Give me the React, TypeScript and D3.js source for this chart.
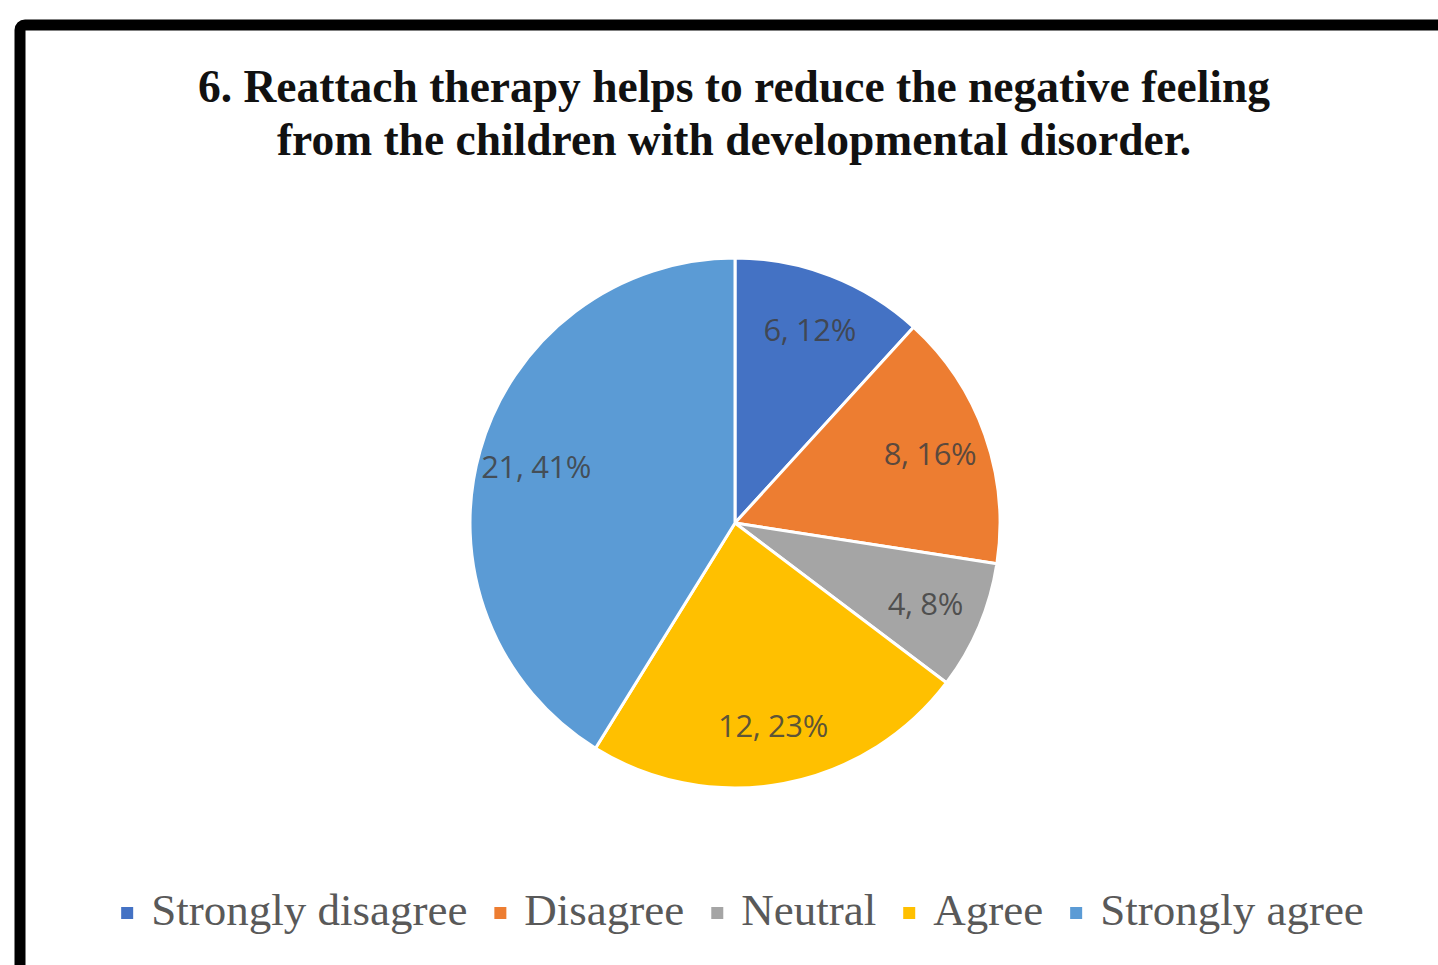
import React, { useEffect, useRef } from "react";
import * as d3 from "d3";

const categories = ["Strongly disagree", "Disagree", "Neutral", "Agree", "Strongly agree"];
const counts = [6, 8, 4, 12, 21];
const percentLabels = ["12%", "16%", "8%", "23%", "41%"];
const colors = ["#4472C4", "#ED7D31", "#A5A5A5", "#FFC000", "#5B9BD5"];
const titleLines = [
  "6. Reattach therapy helps to reduce the negative feeling",
  "from the children with developmental disorder.",
];

const W = 1438;
const H = 965;

export default function App() {
  const ref = useRef<SVGSVGElement | null>(null);

  useEffect(() => {
    const svg = d3.select(ref.current);
    svg.selectAll("*").remove();

    // frame
    svg
      .append("rect")
      .attr("x", 20)
      .attr("y", 25)
      .attr("width", W + 40)
      .attr("height", H + 40)
      .attr("rx", 5)
      .attr("fill", "#fff")
      .attr("stroke", "#000")
      .attr("stroke-width", 11);

    // title
    const title = svg
      .append("text")
      .attr("text-anchor", "middle")
      .attr("font-family", "'Liberation Serif', 'Times New Roman', serif")
      .attr("font-weight", "bold")
      .attr("font-size", 45.5)
      .attr("fill", "#111");
    titleLines.forEach((t, i) => {
      title
        .append("tspan")
        .attr("x", 734)
        .attr("y", 102 + i * 53)
        .text(t);
    });

    // pie
    const cx = 735;
    const cy = 523;
    const r = 265;
    const pie = d3.pie<number>().sort(null).value((d) => d);
    const arcs = pie(counts);
    const arc = d3.arc<d3.PieArcDatum<number>>().innerRadius(0).outerRadius(r);
    const labelArc = d3
      .arc<d3.PieArcDatum<number>>()
      .innerRadius(r * 0.78)
      .outerRadius(r * 0.78);

    const g = svg.append("g").attr("transform", `translate(${cx},${cy})`);
    g.selectAll("path")
      .data(arcs)
      .join("path")
      .attr("d", arc as any)
      .attr("fill", (_, i) => colors[i])
      .attr("stroke", "#fff")
      .attr("stroke-width", 3)
      .attr("stroke-linejoin", "round");

    g.selectAll("text.lbl")
      .data(arcs)
      .join("text")
      .attr("class", "lbl")
      .attr("transform", (d) => `translate(${labelArc.centroid(d)})`)
      .attr("text-anchor", "middle")
      .attr("dy", "0.36em")
      .attr("font-family", "'Open Sans', 'Noto Sans', sans-serif")
      .attr("font-size", 31)
      .attr("fill", "#404040")
      .attr("fill-opacity", 0.85)
      .attr("letter-spacing", -0.4)
      .text((d, i) => `${counts[i]}, ${percentLabels[i]}`);

    // legend
    const legend = svg.append("g");
    const items = legend
      .selectAll("g")
      .data(categories)
      .join("g");
    items
      .append("rect")
      .attr("width", 12)
      .attr("height", 12)
      .attr("y", -18)
      .attr("fill", (_, i) => colors[i]);
    const texts = items
      .append("text")
      .attr("x", 30)
      .attr("font-family", "'Liberation Serif', 'Times New Roman', serif")
      .attr("font-size", 45)
      .attr("fill", "#595959")
      .text((d) => d);
    const widths: number[] = [];
    texts.each(function () {
      widths.push((this as SVGTextElement).getComputedTextLength());
    });
    const gap = 27;
    const itemW = widths.map((w) => 30 + w);
    const total = d3.sum(itemW) + gap * (itemW.length - 1);
    let x = 742.5 - total / 2;
    items.attr("transform", (_, i) => {
      const t = `translate(${x},925)`;
      x += itemW[i] + gap;
      return t;
    });
  }, []);

  return (
    <svg
      ref={ref}
      width={W}
      height={H}
      style={{ position: "absolute", left: 0, top: 0, display: "block", background: "#fff" }}
    />
  );
}
